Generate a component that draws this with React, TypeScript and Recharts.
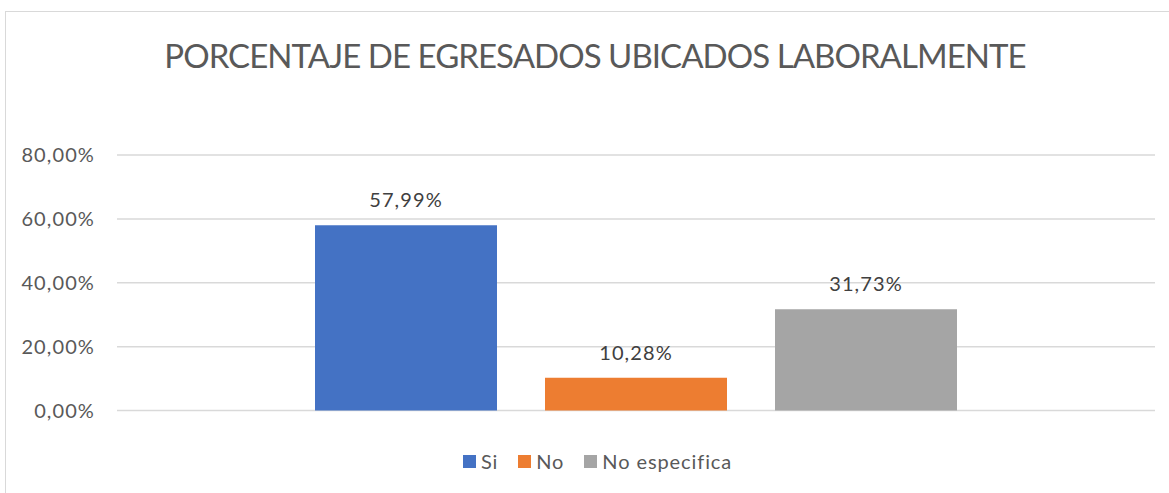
import React from 'react';
import { BarChart, Bar, XAxis, YAxis, CartesianGrid, Legend, LabelList } from 'recharts';

const categories = ['Egresados'];
const seriesNames = ['Si', 'No', 'No especifica'];
const siValues = [57.99];
const noValues = [10.28];
const noEspecificaValues = [31.73];
const yTicks = [0, 20, 40, 60, 80];
const seriesColors = ['#4472C4', '#ED7D31', '#A5A5A5'];
const title = 'PORCENTAJE DE EGRESADOS UBICADOS LABORALMENTE';

const data = categories.map((c, i) => ({
  name: c,
  si: siValues[i],
  no: noValues[i],
  noEsp: noEspecificaValues[i],
}));

const FONT = 'Lato, "Open Sans", sans-serif';
const fmt = (v: number) => v.toFixed(2).replace('.', ',') + '%';

const LegendContent = () => (
  <div style={{ display: 'flex', justifyContent: 'center', alignItems: 'center', fontFamily: FONT, fontSize: 20, letterSpacing: 0.9, color: '#595959', paddingLeft: 26 }}>
    {seriesNames.map((n, i) => (
      <div key={n} style={{ display: 'flex', alignItems: 'center', marginRight: i < seriesNames.length - 1 ? 20 : 0 }}>
        <span style={{ display: 'inline-block', width: 13, height: 13, background: seriesColors[i], marginRight: 5 }} />
        <span>{n}</span>
      </div>
    ))}
  </div>
);

const labelStyle = { fill: '#404040', fontSize: 20, fontFamily: FONT, letterSpacing: 1.1 };

export default function App() {
  return (
    <div style={{ position: 'fixed', left: 0, top: 0, width: 1169, height: 493, background: '#fff', overflow: 'hidden' }}>
      <div style={{ position: 'absolute', left: 5, top: 11, width: 1200, height: 600, borderLeft: '1px solid #D9D9D9', borderTop: '1px solid #D9D9D9' }} />
      <div style={{ position: 'absolute', left: 0, top: 35, width: 1190, textAlign: 'center', fontFamily: FONT, fontSize: 33, letterSpacing: -0.95, color: '#595959', whiteSpace: 'nowrap' }}>
        {title}
      </div>
      <div style={{ position: 'absolute', left: 0, top: 0 }}>
        <BarChart width={1169} height={493} data={data} margin={{ top: 155, right: 14, bottom: 82.5, left: 0 }} barGap={48} barSize={182}>
          <CartesianGrid vertical={false} stroke="#D9D9D9" strokeWidth={1.5} />
          <XAxis dataKey="name" hide />
          <YAxis
            width={117}
            domain={[0, 80]}
            ticks={yTicks}
            tickFormatter={fmt}
            axisLine={false}
            tickLine={false}
            tickSize={0}
            tickMargin={22}
            tick={{ fill: '#595959', fontSize: 20, fontFamily: FONT, letterSpacing: 1.1 }}
          />
          <Legend
            layout="horizontal"
            verticalAlign="middle"
            align="center"
            wrapperStyle={{ top: 449, left: 0, width: 1169 }}
            content={<LegendContent />}
          />
          <Bar dataKey="si" name={seriesNames[0]} fill={seriesColors[0]} isAnimationActive={false}>
            <LabelList dataKey="si" position="top" offset={18} formatter={(v: any) => fmt(Number(v))} style={labelStyle} />
          </Bar>
          <Bar dataKey="no" name={seriesNames[1]} fill={seriesColors[1]} isAnimationActive={false}>
            <LabelList dataKey="no" position="top" offset={18} formatter={(v: any) => fmt(Number(v))} style={labelStyle} />
          </Bar>
          <Bar dataKey="noEsp" name={seriesNames[2]} fill={seriesColors[2]} isAnimationActive={false}>
            <LabelList dataKey="noEsp" position="top" offset={18} formatter={(v: any) => fmt(Number(v))} style={labelStyle} />
          </Bar>
        </BarChart>
      </div>
    </div>
  );
}
